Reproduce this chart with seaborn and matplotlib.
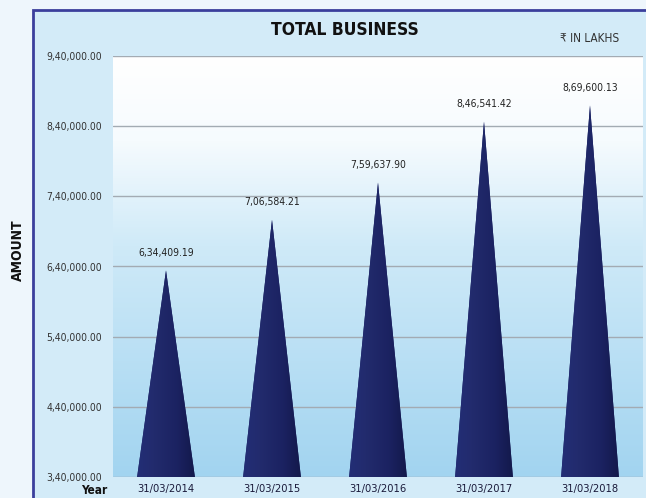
import numpy as np
import pandas as pd
import matplotlib
matplotlib.use("Agg")
import matplotlib.pyplot as plt
from matplotlib.colors import LinearSegmentedColormap
from matplotlib.patches import Polygon, Rectangle
import seaborn as sns

# ---------------- data ----------------
years = ["31/03/2014", "31/03/2015", "31/03/2016", "31/03/2017", "31/03/2018"]
total_business = [634409.19, 706584.21, 759637.90, 846541.42, 869600.13]
y_ticks = [340000, 440000, 540000, 640000, 740000, 840000, 940000]
title = "TOTAL BUSINESS"
unit_note = "\u20b9 IN LAKHS"
y_label = "AMOUNT"
x_label = "Year"


def inr(v):
    s = f"{v:.2f}"
    ip, dp = s.split(".")
    if len(ip) > 3:
        last3 = ip[-3:]
        rest = ip[:-3]
        groups = []
        while len(rest) > 2:
            groups.insert(0, rest[-2:])
            rest = rest[:-2]
        if rest:
            groups.insert(0, rest)
        ip = ",".join(groups + [last3])
    return ip + "." + dp


sns.set_theme(style="white")
plt.rcParams["font.family"] = ["DejaVu Sans"]
plt.rcParams["font.stretch"] = "condensed"

W, H = 646, 498
fig = plt.figure(figsize=(W / 100, H / 100), dpi=100)
fig.patch.set_facecolor("#eef6fc")

# outer frame
frame = Rectangle((33 / W, -0.1), 1.0, (H - 10) / H + 0.1, transform=fig.transFigure,
                  facecolor="#d3ebf8", edgecolor="#3b3f9c", linewidth=2, zorder=-10)
fig.add_artist(frame)

ax = fig.add_axes([113 / W, (H - 477) / H, (643 - 113) / W, (477 - 56) / H])
ax.set_zorder(5)
ax.set_facecolor("none")

df = pd.DataFrame({"year": years, "value": total_business})
sns.barplot(data=df, x="year", y="value", ax=ax, color="#1b2363", width=0.545,
            errorbar=None, zorder=3)

ymin, ymax = y_ticks[0], y_ticks[-1]
ax.set_ylim(ymin, ymax)
ax.set_xlim(-0.5, len(years) - 0.5)

# background gradient of plot area
bg_cmap = LinearSegmentedColormap.from_list(
    "bg", [(0.0, "#a2d4f0"), (0.55, "#cfeaf8"), (0.8, "#f6fbfe"), (1.0, "#ffffff")])
grad = np.linspace(0, 1, 256).reshape(-1, 1)
ax.imshow(grad, cmap=bg_cmap, aspect="auto", extent=[0, 1, 0, 1],
          transform=ax.transAxes, origin="lower", zorder=0)

# cone shading colormap (horizontal)
cone_cmap = LinearSegmentedColormap.from_list(
    "cone", [(0.0, "#232e76"), (0.3, "#222b6d"), (0.7, "#1b2261"), (1.0, "#13194b")])
hgrad = np.linspace(0, 1, 256).reshape(1, -1)

for patch, val in zip(list(ax.patches), total_business):
    cx = patch.get_x() + patch.get_width() / 2
    hw = patch.get_width() / 2
    patch.set_visible(False)
    n = 60
    t = np.linspace(0, 1, n)
    ys = val - t * (val - ymin)
    left = cx - hw * t
    right = cx + hw * t
    verts = list(zip(left, ys)) + list(zip(right[::-1], ys[::-1]))
    poly = Polygon(verts, closed=True, facecolor="#1c2463", edgecolor="none", zorder=3)
    ax.add_patch(poly)
    im = ax.imshow(hgrad, cmap=cone_cmap, aspect="auto",
                   extent=[cx - hw, cx + hw, ymin, val], zorder=4)
    im.set_clip_path(poly)
    ax.annotate(inr(val), xy=(cx, val), xytext=(0, 9), textcoords="offset points",
                ha="center", va="bottom", fontsize=7.5, color="#222222", zorder=5)

ax.set_xlim(-0.5, len(years) - 0.5)
ax.set_ylim(ymin, ymax)

ax.set_yticks(y_ticks)
ax.set_yticklabels([inr(v) for v in y_ticks], fontsize=7.5, color="#333333")
ax.tick_params(axis="y", length=0, pad=8)
ax.tick_params(axis="x", length=0, pad=5, labelsize=8, labelcolor="#1a1a3a")
ax.set_xlabel("")
ax.set_ylabel("")
ax.yaxis.grid(True, color="#a3abb3", linewidth=1.0, zorder=1)
ax.set_axisbelow(True)
for s in ax.spines.values():
    s.set_visible(False)

fig.text(345 / W, 1 - 30 / H, title, ha="center", va="center", fontsize=12.5,
         fontweight="bold", color="#111111")
fig.text(590 / W, 1 - 38 / H, unit_note, ha="center", va="center", fontsize=8.5,
         color="#333333")
fig.text(18 / W, 1 - 250 / H, y_label, ha="center", va="center", rotation=90,
         fontsize=10, fontweight="bold", color="#111111")
fig.text(107 / W, 1 - 490 / H, x_label, ha="right", va="center", fontsize=8.5,
         fontweight="bold", color="#111111")

fig.savefig("out.png", dpi=100, facecolor=fig.get_facecolor())
